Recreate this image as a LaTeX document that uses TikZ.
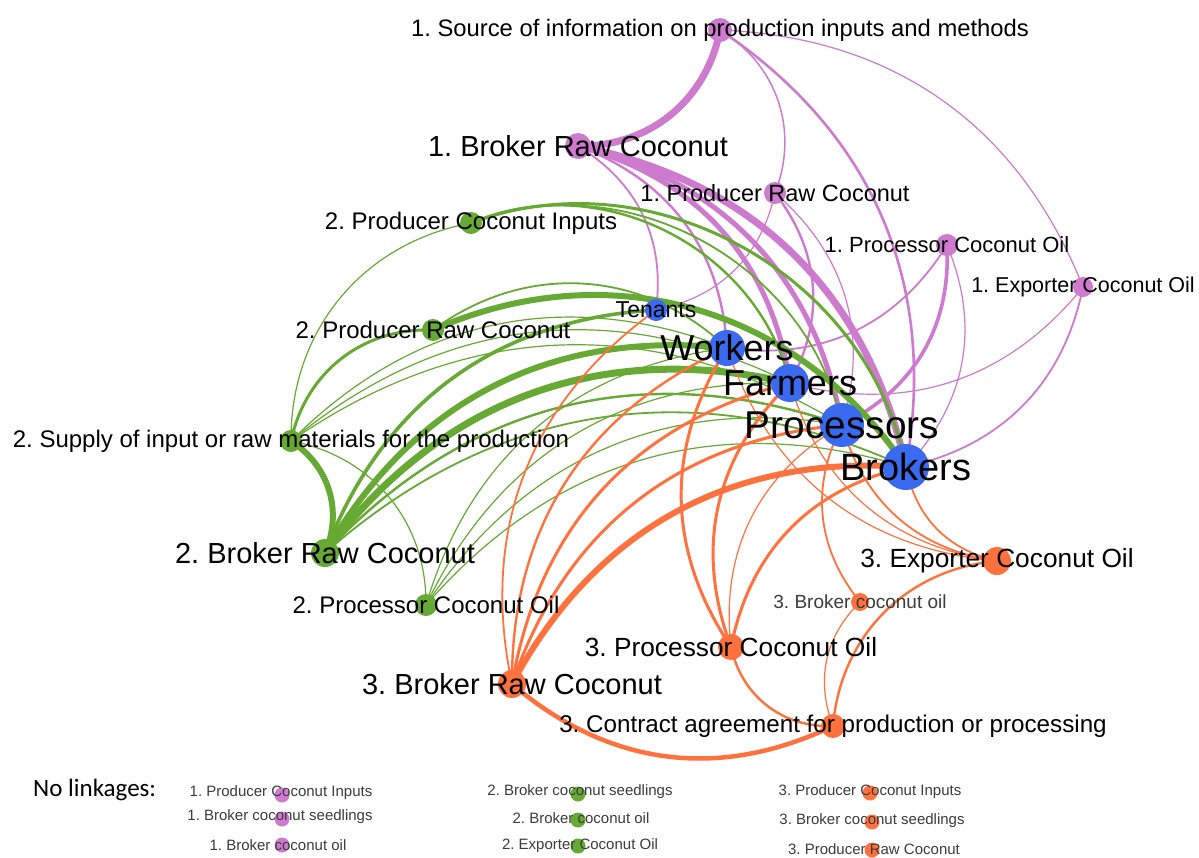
\documentclass[tikz,border=0pt]{standalone}
\usepackage{fontspec}
\setmainfont{Liberation Sans}
\newfontfamily\calib{Carlito}
\usetikzlibrary{backgrounds}
\definecolor{pu}{RGB}{206,122,206}
\definecolor{gr}{RGB}{102,170,51}
\definecolor{orn}{RGB}{255,114,62}
\definecolor{bl}{RGB}{58,106,240}
\definecolor{lgray}{RGB}{60,60,60}
\newcommand{\fsz}[1]{\fontsize{#1}{#1}\selectfont}
\frenchspacing
\begin{document}
\frenchspacing
\begin{tikzpicture}[x=1pt,y=-1pt,
  dotn/.style={circle,inner sep=0pt,draw=none},
  lab/.style={inner sep=0pt,text=black},
  leg/.style={inner sep=0pt,text=lgray,font=\fsz{15}},
  pe/.style={draw=pu},
  ge/.style={draw=gr},
  oe/.style={draw=orn},
  bn/.style={bend left=40},
  bs/.style={bend left=33},
  bw/.style={bend left=50}]
\useasboundingbox (0,0) rectangle (1199,857);

% ---------- nodes ----------
% purple
\node[dotn,fill=pu,minimum size=24] (src) at (720,30) {};
\node[dotn,fill=pu,minimum size=26] (pbrc) at (578,146) {};
\node[dotn,fill=pu,minimum size=22] (pprc) at (775,193) {};
\node[dotn,fill=pu,minimum size=22] (ppco) at (947,245) {};
\node[dotn,fill=pu,minimum size=20] (peco) at (1083,287) {};
% green
\node[dotn,fill=gr,minimum size=22] (gpci) at (471,223) {};
\node[dotn,fill=gr,minimum size=22] (gprc) at (433,330) {};
\node[dotn,fill=gr,minimum size=22] (gsup) at (291,441) {};
\node[dotn,fill=gr,minimum size=28] (gbrc) at (325,553) {};
\node[dotn,fill=gr,minimum size=22] (gpco) at (426,605) {};
% orange
\node[dotn,fill=orn,minimum size=28] (oeco) at (997,561) {};
\node[dotn,fill=orn,minimum size=18] (obco) at (860,602) {};
\node[dotn,fill=orn,minimum size=26] (opco) at (731,647) {};
\node[dotn,fill=orn,minimum size=28] (obrc) at (512,684) {};
\node[dotn,fill=orn,minimum size=24] (ocon) at (833,726) {};
% blue
\node[dotn,fill=bl,minimum size=22] (ten) at (656,310) {};
\node[dotn,fill=bl,minimum size=36] (wor) at (727,348) {};
\node[dotn,fill=bl,minimum size=38] (far) at (790,383) {};
\node[dotn,fill=bl,minimum size=44] (pro) at (842,425) {};
\node[dotn,fill=bl,minimum size=46] (bro) at (906,467) {};

% ---------- edges ----------
\begin{scope}[on background layer]
\fill[white] (0,0) rectangle (1199,857);
% purple
\draw[pe,line width=7] (src.center) to[bn] (pbrc.center);
\draw[pe,line width=1.5] (src.center) to[bn] (pprc.center);
\draw[pe,line width=2.6] (src.center) to[bs] (bro.center);
\draw[pe,line width=1.2] (src.center) to[bs] (peco.center);
\draw[pe,line width=1.8] (pbrc.center) to[bs] (ten.center);
\draw[pe,line width=2.4] (pbrc.center) to[bs] (wor.center);
\draw[pe,line width=5] (pbrc.center) to[bs] (far.center);
\draw[pe,line width=5] (pbrc.center) to[bs] (pro.center);
\draw[pe,line width=7] (pbrc.center) to[bs] (bro.center);
\draw[pe,line width=1.2] (pprc.center) to[bs] (ten.center);
\draw[pe,line width=2.4] (pprc.center) to[bs] (far.center);
\draw[pe,line width=1.2] (pprc.center) to[bs] (pro.center);
\draw[pe,line width=1.8] (ppco.center) to[bs] (wor.center);
\draw[pe,line width=3.6] (ppco.center) to[bs] (pro.center);
\draw[pe,line width=1.2] (ppco.center) to[bs] (bro.center);
\draw[pe,line width=1.2] (peco.center) to[bs] (far.center);
\draw[pe,line width=1.8] (peco.center) to[bs] (bro.center);
% green
\draw[ge,line width=1.2] (gsup.center) to[bn] (gpci.center);
\draw[ge,line width=3] (gsup.center) to[bn] (gprc.center);
\draw[ge,line width=6] (gsup.center) to[bn] (gbrc.center);
\draw[ge,line width=1.2] (gsup.center) to[bn] (gpco.center);
\draw[ge,line width=1.2] (gsup.center) to[bs] (wor.center);
\draw[ge,line width=1.2] (gsup.center) to[bs] (far.center);
\draw[ge,line width=1.2] (gsup.center) to[bs] (pro.center);
\draw[ge,line width=2.4] (gpci.center) to[bw] (far.center);
\draw[ge,line width=1.8] (gpci.center) to[bw] (pro.center);
\draw[ge,line width=3] (gpci.center) to[bw] (bro.center);
\draw[ge,line width=6] (gprc.center) to[bn] (bro.center);
\draw[ge,line width=1.8] (gprc.center) to[bn] (wor.center);
\draw[ge,line width=3.6] (gbrc.center) to[bs] (ten.center);
\draw[ge,line width=6] (gbrc.center) to[bs] (wor.center);
\draw[ge,line width=7] (gbrc.center) to[bs] (far.center);
\draw[ge,line width=2.4] (gbrc.center) to[bs] (pro.center);
\draw[ge,line width=1.8] (gbrc.center) to[bs] (bro.center);
\draw[ge,line width=1.2] (gpco.center) to[bs] (wor.center);
\draw[ge,line width=1.2] (gpco.center) to[bs] (far.center);
\draw[ge,line width=1.2] (gpco.center) to[bs] (pro.center);
\draw[ge,line width=1.2] (gpco.center) to[bs] (bro.center);
% orange
\draw[oe,line width=1.8] (obrc.center) to[bs] (ten.center);
\draw[oe,line width=2.4] (obrc.center) to[bs] (wor.center);
\draw[oe,line width=3] (obrc.center) to[bs] (far.center);
\draw[oe,line width=3] (obrc.center) to[bs] (pro.center);
\draw[oe,line width=6] (obrc.center) to[bs] (bro.center);
\draw[oe,line width=3] (opco.center) to[bs] (wor.center);
\draw[oe,line width=3] (opco.center) to[bs] (far.center);
\draw[oe,line width=1.2] (opco.center) to[bs] (pro.center);
\draw[oe,line width=3] (opco.center) to[bs] (bro.center);
\draw[oe,line width=1.8] (obco.center) to[bs] (pro.center);
\draw[oe,line width=1.2] (oeco.center) to[bs] (wor.center);
\draw[oe,line width=1.2] (oeco.center) to[bs] (far.center);
\draw[oe,line width=1.8] (oeco.center) to[bs] (pro.center);
\draw[oe,line width=1.8] (oeco.center) to[bs] (bro.center);
\draw[oe,line width=4.5] (ocon.center) to[bs] (obrc.center);
\draw[oe,line width=2.4] (ocon.center) to[bn] (opco.center);
\draw[oe,line width=2.4] (ocon.center) to[bn] (oeco.center);
\draw[oe,line width=1.2] (ocon.center) to[bs] (obco.center);
\end{scope}

% ---------- labels ----------
\node[lab,font=\fsz{23.8}] (srcL) at (src) {1. Source of information on production inputs and methods};
\node[lab,font=\fsz{29}] (pbrcL) at (pbrc) {1. Broker Raw Coconut};
\node[lab,font=\fsz{23.5}] (pprcL) at (pprc) {1. Producer Raw Coconut};
\node[lab,font=\fsz{22}] (ppcoL) at (ppco) {1. Processor Coconut Oil};
\node[lab,font=\fsz{21.5}] (pecoL) at (peco) {1. Exporter Coconut Oil};
\node[lab,font=\fsz{24}] (gpciL) at (gpci) {2. Producer Coconut Inputs};
\node[lab,font=\fsz{24}] (gprcL) at (gprc) {2. Producer Raw Coconut};
\node[lab,font=\fsz{24}] (gsupL) at (gsup) {2. Supply of input or raw materials for the production};
\node[lab,font=\fsz{29}] (gbrcL) at (gbrc) {2. Broker Raw Coconut};
\node[lab,font=\fsz{24}] (gpcoL) at (gpco) {2. Processor Coconut Oil};
\node[lab,font=\fsz{26.3}] (oecoL) at (oeco) {3. Exporter Coconut Oil};
\node[lab,font=\fsz{19},text=lgray] (obcoL) at (obco) {3. Broker coconut oil};
\node[lab,font=\fsz{26.3}] (opcoL) at (opco) {3. Processor Coconut Oil};
\node[lab,font=\fsz{29}] (obrcL) at (obrc) {3. Broker Raw Coconut};
\node[lab,font=\fsz{24.2}] (oconL) at (ocon) {3. Contract agreement for production or processing};
\node[lab,font=\fsz{23}] (tenL) at (ten) {Tenants};
\node[lab,font=\fsz{36}] (worL) at (wor) {Workers};
\node[lab,font=\fsz{36}] (farL) at (far) {Farmers};
\node[lab,font=\fsz{38.8}] (proL) at (pro) {Processors};
\node[lab,font=\fsz{38}] (broL) at (bro) {Brokers};

% ---------- legend ----------
\node[lab,font=\calib\fsz{25},anchor=west] (nolink) at (33,790) {No linkages:};
\node[dotn,fill=pu,minimum size=15] (l11) at (282,795) {};
\node[dotn,fill=pu,minimum size=15] (l12) at (282,819) {};
\node[dotn,fill=pu,minimum size=15] (l13) at (282,845) {};
\node[dotn,fill=gr,minimum size=15] (l21) at (578,794) {};
\node[dotn,fill=gr,minimum size=15] (l22) at (578,820) {};
\node[dotn,fill=gr,minimum size=15] (l23) at (578,846) {};
\node[dotn,fill=orn,minimum size=15] (l31) at (870,793) {};
\node[dotn,fill=orn,minimum size=15] (l32) at (872,822) {};
\node[dotn,fill=orn,minimum size=15] (l33) at (872,850) {};
\node[leg] (l11L) at (281,793) {1. Producer Coconut Inputs};
\node[leg] (l12L) at (280,817) {1. Broker coconut seedlings};
\node[leg] (l13L) at (278,845) {1. Broker coconut oil};
\node[leg] (l21L) at (580,792) {2. Broker coconut seedlings};
\node[leg] (l22L) at (581,818) {2. Broker coconut oil};
\node[leg] (l23L) at (580,846) {2. Exporter Coconut Oil};
\node[leg] (l31L) at (870,792) {3. Producer Coconut Inputs};
\node[leg] (l32L) at (872,821) {3. Broker coconut seedlings};
\node[leg] (l33L) at (874,849) {3. Producer Raw Coconut};
\end{tikzpicture}
\end{document}
